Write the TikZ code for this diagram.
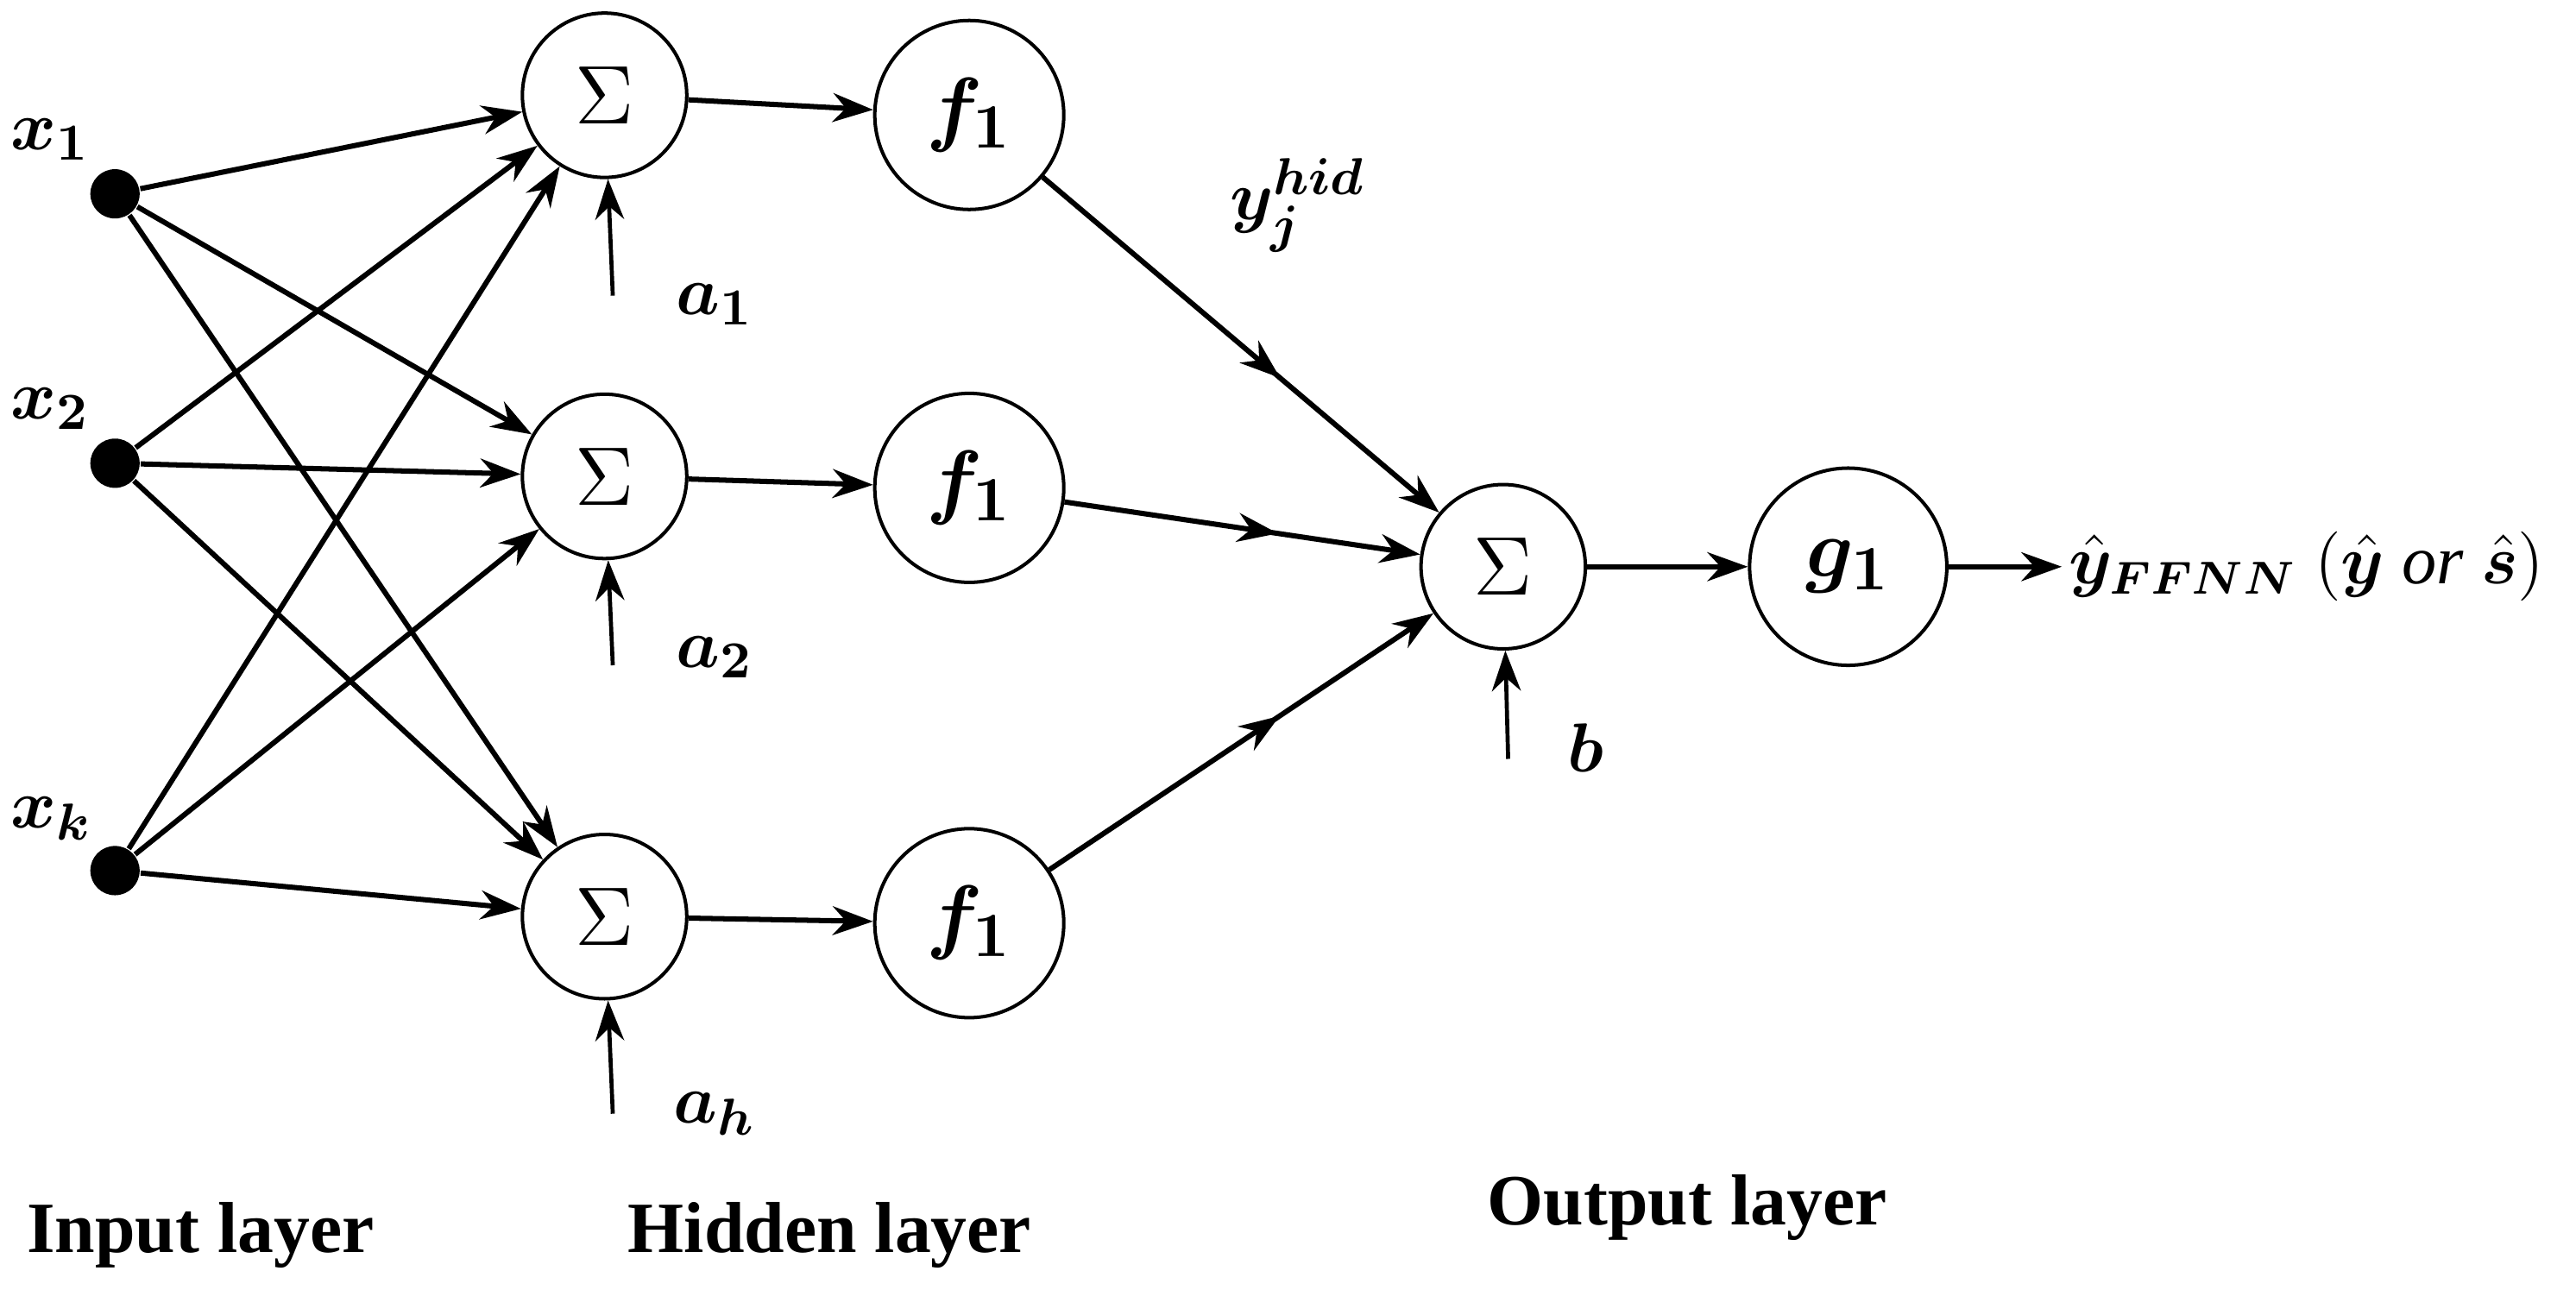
\documentclass[tikz,border=0pt]{standalone}
\usepackage{amsmath,amssymb,bm}
\usepackage{fontspec}
\setmainfont{Liberation Serif}
\usetikzlibrary{arrows.meta,decorations.markings}
\begin{document}
\begin{tikzpicture}[x=0.01cm,y=-0.01cm,
  neuron/.style={circle,draw,line width=0.6pt,inner sep=0pt},
  sumn/.style={neuron,minimum size=1.0cm,font=\fontsize{15}{15}\selectfont},
  fn/.style={neuron,minimum size=1.15cm,font=\fontsize{15}{15}\selectfont},
  dot/.style={circle,fill=black,minimum size=0.3cm,inner sep=0pt},
  lbl/.style={font=\fontsize{13}{13}\selectfont},
  layer/.style={font=\bfseries\fontsize{12.5}{12.5}\selectfont},
  arr/.style={-{Stealth[length=7pt,width=5pt]},line width=0.9pt},
  midarr/.style={arr,postaction={decorate},decoration={markings,
    mark=at position 0.6 with {\arrow{Stealth[length=7pt,width=5pt]}}}}]
\useasboundingbox (0,0) rectangle (1568,785);
% input nodes
\node[dot] (x1) at (70,118) {};
\node[dot] (x2) at (70,282) {};
\node[dot] (xk) at (70,530) {};
\node[lbl,anchor=south west,inner sep=0pt] at (6,98) {$\bm{x_1}$};
\node[lbl,anchor=south west,inner sep=0pt] at (6,262) {$\bm{x_2}$};
\node[lbl,anchor=south west,inner sep=0pt] at (6,512) {$\bm{x_k}$};
% hidden layer
\node[sumn] (s1) at (368,58) {$\Sigma$};
\node[sumn] (s2) at (368,290) {$\Sigma$};
\node[sumn] (s3) at (368,558) {$\Sigma$};
\node[fn] (f1) at (590,70) {$\bm{f_1}$};
\node[fn] (f2) at (590,297) {$\bm{f_1}$};
\node[fn] (f3) at (590,562) {$\bm{f_1}$};
% output layer
\node[sumn] (so) at (915,345) {$\Sigma$};
\node[neuron,minimum size=1.2cm,font=\fontsize{15}{15}\selectfont] (g) at (1125,345) {$\bm{g_1}$};
\node[font=\fontsize{12}{12}\selectfont,anchor=west,inner sep=1pt] (yo) at (1255,345) {$\bm{\hat{y}_{FFNN}}$ $(\bm{\hat{y}}$ \textit{or} $\bm{\hat{s}})$};
% input connections
\foreach \i in {x1,x2,xk}
  \foreach \j in {s1,s2,s3}
    \draw[arr] (\i) -- (\j);
\draw[arr] (s1) -- (f1);
\draw[arr] (s2) -- (f2);
\draw[arr] (s3) -- (f3);
\draw[midarr] (f1) -- (so);
\draw[midarr] (f2) -- (so);
\draw[midarr] (f3) -- (so);
\draw[arr] (so) -- (g);
\draw[arr] (g) -- (yo.west);
% biases
\coordinate (b1) at (373,180);
\coordinate (b2) at (373,405);
\coordinate (b3) at (373,678);
\coordinate (bo) at (918,462);
\draw[arr,line width=0.7pt] (b1) -- (s1);
\draw[arr,line width=0.7pt] (b2) -- (s2);
\draw[arr,line width=0.7pt] (b3) -- (s3);
\draw[arr,line width=0.7pt] (bo) -- (so);
\node[lbl] at (435,185) {$\bm{a_1}$};
\node[lbl] at (435,400) {$\bm{a_2}$};
\node[lbl] at (435,678) {$\bm{a_h}$};
\node[lbl] at (965,455) {$\bm{b}$};
\node[lbl] at (790,125) {$\bm{y_j^{hid}}$};
% layer titles
\node[layer] at (122,752) {Input layer};
\node[layer] at (505,752) {Hidden layer};
\node[layer] at (1027,735) {Output layer};
\end{tikzpicture}
\end{document}
